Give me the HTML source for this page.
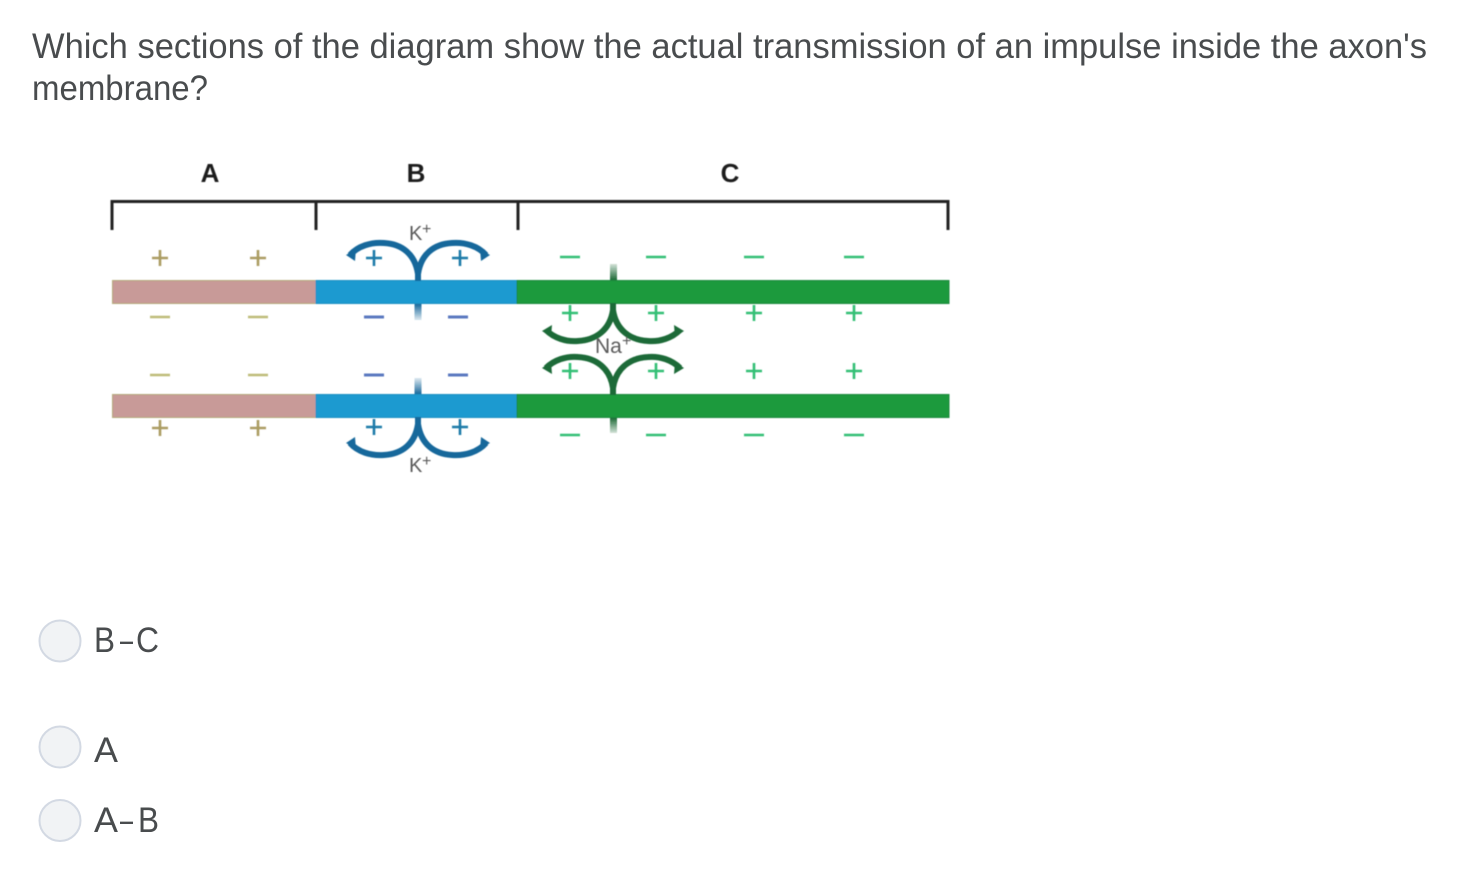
<!DOCTYPE html>
<html lang="en">
<head>
<meta charset="utf-8">
<title>Axon membrane question</title>
<style>
html,body{margin:0;padding:0;background:#fff;width:1476px;height:878px;overflow:hidden}
svg{display:block}
.q{font-family:"Liberation Sans",sans-serif;font-size:35px;fill:#494c4e}
.h{font-family:"Liberation Sans",sans-serif;font-size:26px;font-weight:bold;fill:#1a1a1a;text-anchor:middle}
.l{font-family:"Liberation Sans",sans-serif;fill:#5a5a5a}
</style>
</head>
<body>
<svg width="1476" height="878" viewBox="0 0 1476 878" xmlns="http://www.w3.org/2000/svg">
<defs>
<filter id="b" x="-5%" y="-5%" width="110%" height="110%"><feGaussianBlur stdDeviation="0.6"/></filter>
<linearGradient id="fbu" x1="0" y1="0" x2="0" y2="1"><stop offset="0" stop-color="#1a6a9c"/><stop offset="1" stop-color="#1a6a9c" stop-opacity="0.15"/></linearGradient>
<linearGradient id="fbd" x1="0" y1="1" x2="0" y2="0"><stop offset="0" stop-color="#1a6a9c"/><stop offset="1" stop-color="#1a6a9c" stop-opacity="0.15"/></linearGradient>
<linearGradient id="fgu" x1="0" y1="1" x2="0" y2="0"><stop offset="0" stop-color="#1f6b38"/><stop offset="1" stop-color="#1f6b38" stop-opacity="0.2"/></linearGradient>
<linearGradient id="fgd" x1="0" y1="0" x2="0" y2="1"><stop offset="0" stop-color="#1f6b38"/><stop offset="1" stop-color="#1f6b38" stop-opacity="0.2"/></linearGradient>
</defs>

<text class="q" x="32" y="58" textLength="1395" lengthAdjust="spacingAndGlyphs">Which sections of the diagram show the actual transmission of an impulse inside the axon's</text>
<text class="q" x="32" y="100" textLength="176" lengthAdjust="spacingAndGlyphs">membrane?</text>

<g filter="url(#b)">
  <text class="h" x="210" y="182">A</text>
  <text class="h" x="416" y="182">B</text>
  <text class="h" x="730" y="182">C</text>

  <path d="M112 230V201.500H948V230M316 201.500V230M518 201.500V230" fill="none" stroke="#222" stroke-width="3"/>

  <rect x="112.500" y="280.500" width="204" height="23" fill="#c89a98" stroke="#b5ab7c"/>
  <rect x="316" y="280.500" width="201" height="23" fill="#1b9ad0" stroke="#1b8fc2"/>
  <rect x="517" y="280.500" width="432" height="23" fill="#1a9a3e" stroke="#1b8a3c"/>
  <rect x="112.500" y="394.500" width="204" height="23" fill="#c89a98" stroke="#b5ab7c"/>
  <rect x="316" y="394.500" width="201" height="23" fill="#1b9ad0" stroke="#1b8fc2"/>
  <rect x="517" y="394.500" width="432" height="23" fill="#1a9a3e" stroke="#1b8a3c"/>

  <!-- section A charges -->
  <g stroke="#ab9c62" stroke-width="2.600" fill="none">
    <path d="M152 258H168M160 250V266M250 258H266M258 250V266"/>
    <path d="M152 428H168M160 420V436M250 428H266M258 420V436"/>
  </g>
  <g stroke="#bdbb78" stroke-width="2.600" fill="none">
    <path d="M150 317H170M248 317H268M150 375H170M248 375H268"/>
  </g>

  <!-- section B charges -->
  <g stroke="#1d7aa8" stroke-width="2.600" fill="none">
    <path d="M366 258H382M374 250V266M452 258H468M460 250V266"/>
    <path d="M366 427H382M374 419V435M452 427H468M460 419V435"/>
  </g>
  <g stroke="#5a78c0" stroke-width="3" fill="none">
    <path d="M364 317H384M448 317H468M364 375H384M448 375H468"/>
  </g>

  <!-- section C charges -->
  <g stroke="#30bf75" stroke-width="2.600" fill="none">
    <path d="M560 257H580M646 257H666M744 257H764M844 257H864"/>
    <path d="M560 435H580M646 435H666M744 435H764M844 435H864"/>
    <path d="M562 313H578M570 305V321M648 313H664M656 305V321M746 313H762M754 305V321M846 313H862M854 305V321"/>
    <path d="M562 371H578M570 363V379M648 371H664M656 363V379M746 371H762M754 363V379M846 371H862M854 363V379"/>
  </g>

  <!-- K+ channels -->
  <g fill="none" stroke="#17689b" stroke-width="6">
    <path d="M350 255C358 246 371 242 384 243C402 244 415 254 418 274M486 255C478 246 465 242 452 243C434 244 421 254 418 274"/>
    <path d="M350 443C358 452 371 456 384 455C402 454 415 444 418 424M486 443C478 452 465 456 452 455C434 454 421 444 418 424"/>
    <path d="M418 268V281M418 417V430"/>
  </g>
  <g fill="#17689b">
    <path d="M346 255L356 249L355 261Z"/><path d="M490 255L480 249L481 261Z"/>
    <path d="M346 443L356 449L355 437Z"/><path d="M490 443L480 449L481 437Z"/>
    <rect x="414.500" y="304" width="7" height="16" fill="url(#fbu)"/>
    <rect x="414.500" y="378" width="7" height="16" fill="url(#fbd)"/>
  </g>

  <!-- Na+ channels -->
  <g fill="none" stroke="#1f6b38" stroke-width="6">
    <path d="M546 330C554 338 566 342 578 341C596 340 610 330 613 310M680 330C672 338 660 342 648 341C630 340 616 330 613 310"/>
    <path d="M546 368C554 360 566 356 578 357C596 358 610 368 613 388M680 368C672 360 660 356 648 357C630 358 616 368 613 388"/>
    <path d="M613 303V318M613 380V395"/>
  </g>
  <g fill="#1f6b38">
    <path d="M542 331L552 325L551 337Z"/><path d="M684 331L674 325L675 337Z"/>
    <path d="M542 368L552 374L551 362Z"/><path d="M684 368L674 374L675 362Z"/>
    <rect x="610" y="264" width="7" height="16" fill="url(#fgu)"/>
    <rect x="610" y="418" width="7" height="15" fill="url(#fgd)"/>
  </g>

  <text class="l" x="409" y="240" font-size="20">K</text>
  <text class="l" x="422" y="234" font-size="16">+</text>
  <text class="l" x="409" y="472" font-size="20">K</text>
  <text class="l" x="422" y="466" font-size="16">+</text>
  <text class="l" x="595" y="353" font-size="21">Na</text>
  <text class="l" x="622" y="346" font-size="16">+</text>
</g>

<!-- options -->
<g fill="#f1f3f5" stroke="#d3d9e3" stroke-width="2">
  <circle cx="60" cy="641" r="20.500"/>
  <circle cx="60" cy="747" r="20.500"/>
  <circle cx="60" cy="820.500" r="20.500"/>
</g>
<text class="q" x="94" y="652" textLength="21" lengthAdjust="spacingAndGlyphs">B</text>
<text class="q" x="120" y="652" textLength="13" lengthAdjust="spacingAndGlyphs">–</text>
<text class="q" x="136" y="652" textLength="23" lengthAdjust="spacingAndGlyphs">C</text>
<text class="q" x="94" y="762" textLength="24" lengthAdjust="spacingAndGlyphs">A</text>
<text class="q" x="94" y="832" textLength="24" lengthAdjust="spacingAndGlyphs">A</text>
<text class="q" x="120" y="832" textLength="13" lengthAdjust="spacingAndGlyphs">–</text>
<text class="q" x="138" y="832" textLength="21" lengthAdjust="spacingAndGlyphs">B</text>
</svg>
</body>
</html>
